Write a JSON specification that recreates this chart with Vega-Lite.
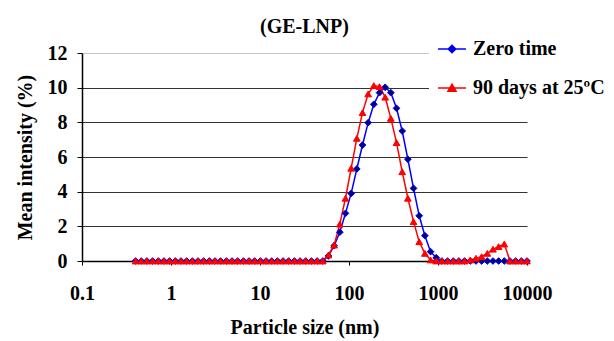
{
  "$schema": "https://vega.github.io/schema/vega-lite/v6.json",
  "width": 445,
  "height": 208,
  "autosize": {"type": "none"},
  "padding": {"left": 82, "top": 53, "right": 87, "bottom": 80},
  "background": "white",
  "title": {"text": "(GE-LNP)", "font": "Liberation Serif", "fontSize": 20, "fontWeight": "bold", "color": "black", "offset": 17, "dy": 28, "anchor": "middle", "frame": "group"},
  "config": {"view": {"stroke": null}},
  "data": {"values": [
    {"size": 0.4, "Zero time": 0, "90 days at 25ºC": 0},
    {"size": 0.4632, "Zero time": 0, "90 days at 25ºC": 0},
    {"size": 0.5365, "Zero time": 0, "90 days at 25ºC": 0},
    {"size": 0.6213, "Zero time": 0, "90 days at 25ºC": 0},
    {"size": 0.7195, "Zero time": 0, "90 days at 25ºC": 0},
    {"size": 0.8332, "Zero time": 0, "90 days at 25ºC": 0},
    {"size": 0.9649, "Zero time": 0, "90 days at 25ºC": 0},
    {"size": 1.117, "Zero time": 0, "90 days at 25ºC": 0},
    {"size": 1.294, "Zero time": 0, "90 days at 25ºC": 0},
    {"size": 1.499, "Zero time": 0, "90 days at 25ºC": 0},
    {"size": 1.736, "Zero time": 0, "90 days at 25ºC": 0},
    {"size": 2.01, "Zero time": 0, "90 days at 25ºC": 0},
    {"size": 2.328, "Zero time": 0, "90 days at 25ºC": 0},
    {"size": 2.696, "Zero time": 0, "90 days at 25ºC": 0},
    {"size": 3.122, "Zero time": 0, "90 days at 25ºC": 0},
    {"size": 3.615, "Zero time": 0, "90 days at 25ºC": 0},
    {"size": 4.187, "Zero time": 0, "90 days at 25ºC": 0},
    {"size": 4.849, "Zero time": 0, "90 days at 25ºC": 0},
    {"size": 5.615, "Zero time": 0, "90 days at 25ºC": 0},
    {"size": 6.503, "Zero time": 0, "90 days at 25ºC": 0},
    {"size": 7.531, "Zero time": 0, "90 days at 25ºC": 0},
    {"size": 8.721, "Zero time": 0, "90 days at 25ºC": 0},
    {"size": 10.1, "Zero time": 0, "90 days at 25ºC": 0},
    {"size": 11.7, "Zero time": 0, "90 days at 25ºC": 0},
    {"size": 13.54, "Zero time": 0, "90 days at 25ºC": 0},
    {"size": 15.69, "Zero time": 0, "90 days at 25ºC": 0},
    {"size": 18.17, "Zero time": 0, "90 days at 25ºC": 0},
    {"size": 21.04, "Zero time": 0, "90 days at 25ºC": 0},
    {"size": 24.36, "Zero time": 0, "90 days at 25ºC": 0},
    {"size": 28.21, "Zero time": 0, "90 days at 25ºC": 0},
    {"size": 32.67, "Zero time": 0, "90 days at 25ºC": 0},
    {"size": 37.84, "Zero time": 0, "90 days at 25ºC": 0},
    {"size": 43.82, "Zero time": 0, "90 days at 25ºC": 0},
    {"size": 50.75, "Zero time": 0, "90 days at 25ºC": 0},
    {"size": 58.77, "Zero time": 0.29, "90 days at 25ºC": 0.35},
    {"size": 68.06, "Zero time": 0.88, "90 days at 25ºC": 0.92},
    {"size": 78.82, "Zero time": 1.66, "90 days at 25ºC": 2.13},
    {"size": 91.28, "Zero time": 2.75, "90 days at 25ºC": 3.62},
    {"size": 105.7, "Zero time": 3.9, "90 days at 25ºC": 5.35},
    {"size": 122.4, "Zero time": 5.31, "90 days at 25ºC": 7.08},
    {"size": 141.8, "Zero time": 6.69, "90 days at 25ºC": 8.56},
    {"size": 164.2, "Zero time": 7.98, "90 days at 25ºC": 9.64},
    {"size": 190.1, "Zero time": 9.04, "90 days at 25ºC": 10.12},
    {"size": 220.2, "Zero time": 9.71, "90 days at 25ºC": 10.06},
    {"size": 255, "Zero time": 10.02, "90 days at 25ºC": 9.45},
    {"size": 295.3, "Zero time": 9.71, "90 days at 25ºC": 8.23},
    {"size": 342, "Zero time": 8.81, "90 days at 25ºC": 6.83},
    {"size": 396.1, "Zero time": 7.5, "90 days at 25ºC": 5.15},
    {"size": 458.7, "Zero time": 5.87, "90 days at 25ºC": 3.62},
    {"size": 531.2, "Zero time": 4.19, "90 days at 25ºC": 2.27},
    {"size": 615.1, "Zero time": 2.61, "90 days at 25ºC": 1.11},
    {"size": 712.4, "Zero time": 1.46, "90 days at 25ºC": 0.44},
    {"size": 825, "Zero time": 0.54, "90 days at 25ºC": 0.06},
    {"size": 955.4, "Zero time": 0.19, "90 days at 25ºC": 0},
    {"size": 1106, "Zero time": 0, "90 days at 25ºC": 0},
    {"size": 1281, "Zero time": 0, "90 days at 25ºC": 0},
    {"size": 1484, "Zero time": 0, "90 days at 25ºC": 0},
    {"size": 1718, "Zero time": 0, "90 days at 25ºC": 0},
    {"size": 1990, "Zero time": 0, "90 days at 25ºC": 0},
    {"size": 2305, "Zero time": 0, "90 days at 25ºC": 0.06},
    {"size": 2669, "Zero time": 0, "90 days at 25ºC": 0.16},
    {"size": 3091, "Zero time": 0, "90 days at 25ºC": 0.25},
    {"size": 3580, "Zero time": 0, "90 days at 25ºC": 0.44},
    {"size": 4145, "Zero time": 0, "90 days at 25ºC": 0.68},
    {"size": 4801, "Zero time": 0, "90 days at 25ºC": 0.83},
    {"size": 5560, "Zero time": 0, "90 days at 25ºC": 0.98},
    {"size": 6439, "Zero time": 0, "90 days at 25ºC": 0},
    {"size": 7456, "Zero time": 0, "90 days at 25ºC": 0},
    {"size": 8635, "Zero time": 0, "90 days at 25ºC": 0},
    {"size": 10000, "Zero time": 0, "90 days at 25ºC": 0}
  ]},
  "transform": [{"fold": ["Zero time", "90 days at 25ºC"], "as": ["series", "value"]}],
  "encoding": {
    "x": {
      "field": "size", "type": "quantitative",
      "scale": {"type": "log", "domain": [0.1, 10000], "nice": false},
      "axis": {
        "values": [0.1, 1, 10, 100, 1000, 10000], "format": "~g",
        "grid": false, "domainColor": "black", "domainWidth": 1.5,
        "tickColor": "black", "tickSize": 4, "labelPadding": 18,
        "labelFont": "Liberation Serif", "labelFontSize": 20, "labelFontWeight": "bold", "labelColor": "black",
        "labelFlush": false, "labelOverlap": false,
        "title": "Particle size (nm)", "titleFont": "Liberation Serif", "titleFontSize": 20, "titleFontWeight": "bold", "titleColor": "black", "titlePadding": 14
      }
    },
    "y": {
      "field": "value", "type": "quantitative",
      "scale": {"domain": [0, 12], "nice": false},
      "axis": {
        "values": [0, 2, 4, 6, 8, 10, 12],
        "grid": true, "gridColor": {"condition": {"test": "datum.value == 12", "value": "#c8c8c8"}, "value": "#333333"}, "gridWidth": 1,
        "domainColor": "black", "domainWidth": 1.5,
        "tickColor": "black", "tickSize": 5, "labelPadding": 10,
        "labelFont": "Liberation Serif", "labelFontSize": 20, "labelFontWeight": "bold", "labelColor": "black",
        "labelFlush": false,
        "title": "Mean intensity (%)", "titleFont": "Liberation Serif", "titleFontSize": 20, "titleFontWeight": "bold", "titleColor": "black", "titlePadding": 12
      }
    }
  },
  "layer": [
    {
      "mark": {"type": "line", "strokeWidth": 1.5},
      "encoding": {
        "color": {
          "field": "series", "type": "nominal",
          "scale": {"domain": ["Zero time", "90 days at 25ºC"], "range": ["#0000FF", "#FF0000"]},
          "legend": {
            "orient": "none", "legendX": 347, "legendY": -27, "padding": 8, "fillColor": "white",
            "title": null, "symbolSize": 784, "rowPadding": 14, "labelOffset": 6,
            "symbolStrokeWidth": 1.5,
            "labelFont": "Liberation Serif", "labelFontSize": 20, "labelFontWeight": "bold", "labelColor": "black",
            "encode": {"symbols": {"update": {
              "shape": {"signal": "datum.value == 'Zero time' ? 'M-1,0L1,0M0,-0.27L0.27,0L0,0.27L-0.27,0Z' : 'M-1,0L1,0M0,-0.27L0.29,0.24L-0.29,0.24Z'"},
              "fill": {"signal": "datum.value == 'Zero time' ? '#000080' : '#FF0000'"},
              "stroke": {"signal": "datum.value == 'Zero time' ? '#0000FF' : '#FF0000'"},
              "strokeWidth": {"value": 1.5},
              "opacity": {"value": 1}
            }}}
          }
        }
      }
    },
    {
      "transform": [{"filter": "datum.series == 'Zero time'"}],
      "mark": {"type": "point", "shape": "diamond", "filled": true, "fill": "#000080", "stroke": "#0000FF", "size": 45, "strokeWidth": 1, "opacity": 1}
    },
    {
      "transform": [{"filter": "datum.series != 'Zero time'"}],
      "mark": {"type": "point", "shape": "triangle-up", "filled": true, "fill": "#FF0000", "stroke": "#FF0000", "size": 45, "strokeWidth": 1, "opacity": 1}
    }
  ]
}
